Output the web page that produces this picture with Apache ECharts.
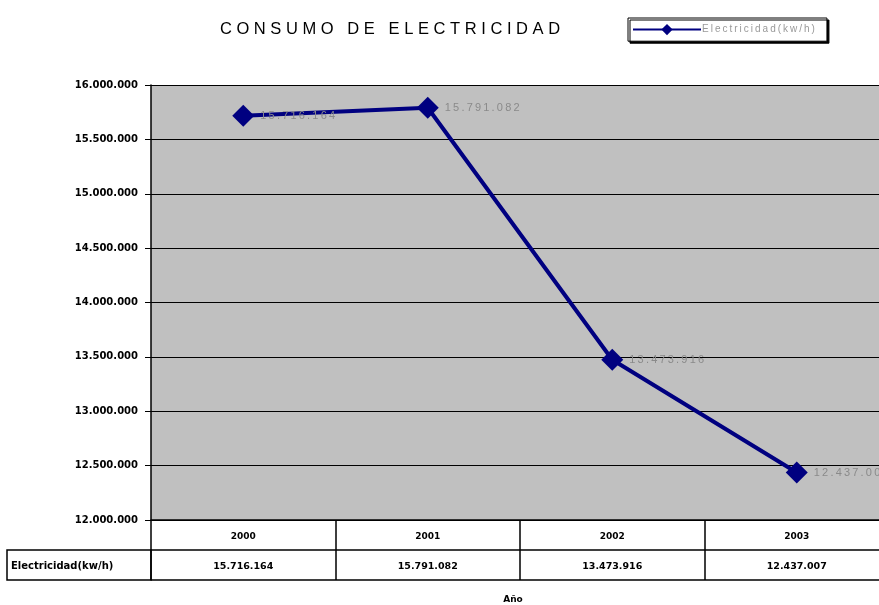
<!DOCTYPE html>
<html><head><meta charset="utf-8">
<script src="https://cdn.jsdelivr.net/npm/echarts@6/dist/echarts.min.js"></script>
<style>html,body{margin:0;padding:0;background:#fff}#c{width:879px;height:605px}</style>
</head><body><div id="c"></div>
<script>
var years = ['2000', '2001', '2002', '2003'];
var electricidad = [15716164, 15791082, 13473916, 12437007];
var seriesName = 'Electricidad(kw/h)';
var yMin = 12000000, yMax = 16000000, yStep = 500000;

function fmt(v) { return String(Math.round(v)).replace(/\B(?=(\d{3})+(?!\d))/g, '.'); }
var valueLabels = electricidad.map(fmt);
var F = 'Liberation Sans, Arial, sans-serif';
var B = 'DejaVu Sans, sans-serif';

var chart = echarts.init(document.getElementById('c'));
chart.setOption({
  animation: false,
  backgroundColor: '#fff',
  title: [
    { text: 'C O N S U M O   D E   E L E C T R I C I D A D', left: 385, top: 16, textAlign: 'center',
      textStyle: { fontFamily: F, fontSize: 16.5, fontWeight: 'normal', color: '#000' } },
    { text: 'Año', left: 508, top: 590, textAlign: 'center',
      textStyle: { fontFamily: B, fontSize: 9, fontWeight: 'bold', color: '#000' } }
  ],
  legend: {
    left: 628, top: 18, padding: [6, 12, 6, 4],
    itemWidth: 68, itemHeight: 14, itemGap: 0,
    borderColor: '#000', borderWidth: 1, backgroundColor: '#fff',
    shadowColor: '#000', shadowOffsetX: 2, shadowOffsetY: 2, shadowBlur: 0,
    textStyle: { fontFamily: F, fontSize: 10, color: '#999', padding: [0, 0, 0, -4] },
    formatter: function (n) { return n.split('').join('\u2009'); },
    data: [seriesName]
  },
  grid: { left: 151, width: 738, top: 85, height: 435, outerBoundsMode: 'none', containLabel: false,
    backgroundColor: '#c0c0c0', show: true, borderWidth: 0 },
  xAxis: [
    { type: 'category', data: years, position: 'bottom', boundaryGap: true,
      axisLine: { lineStyle: { color: '#000', width: 1.5 } },
      axisTick: { show: true, length: 30, interval: 0, lineStyle: { color: '#000', width: 1.5 } },
      axisLabel: { margin: 12, fontFamily: B, fontSize: 9, fontWeight: 'bold', color: '#000' } },
    { type: 'category', data: valueLabels, position: 'bottom', offset: 30, boundaryGap: true,
      axisLine: { lineStyle: { color: '#000', width: 1.5 } },
      axisTick: { show: true, length: 30, interval: 0, lineStyle: { color: '#000', width: 1.5 } },
      axisLabel: { margin: 12, fontFamily: B, fontSize: 9.5, fontWeight: 'bold', color: '#000' } },
    { type: 'category', data: years, position: 'bottom', offset: 60,
      axisLine: { lineStyle: { color: '#000', width: 1.5 } },
      axisTick: { show: false }, axisLabel: { show: false } }
  ],
  yAxis: {
    type: 'value', min: yMin, max: yMax, interval: yStep,
    axisLine: { show: true, lineStyle: { color: '#000', width: 1.5 } },
    axisTick: { show: true, length: 6, lineStyle: { color: '#000' } },
    axisLabel: { margin: 13, fontFamily: B, fontSize: 10, fontWeight: 'bold', color: '#000', formatter: fmt },
    splitLine: { show: true, lineStyle: { color: '#000', width: 1.2 } }
  },
  graphic: [
    { type: 'rect', shape: { x: 7, y: 550, width: 144, height: 30 }, style: { fill: 'none', stroke: '#000', lineWidth: 1.5 }, z: 10 },
    { type: 'text', x: 11, y: 566, style: { text: 'Electricidad(kw/h)', fontFamily: B, fontSize: 10, fontWeight: 'bold', fill: '#000', verticalAlign: 'middle' }, z: 10 }
  ],
  series: [{
    name: seriesName, type: 'line', data: electricidad, xAxisIndex: 0,
    symbol: 'diamond', symbolSize: 22,
    lineStyle: { color: '#000080', width: 4 },
    itemStyle: { color: '#000080' },
    label: { show: true, position: 'right', distance: 6, formatter: function (p) { return fmt(p.value).split('').join('\u2009'); },
      fontFamily: F, fontSize: 11, color: '#8a8a8a' }
  }]
});
</script></body></html>
